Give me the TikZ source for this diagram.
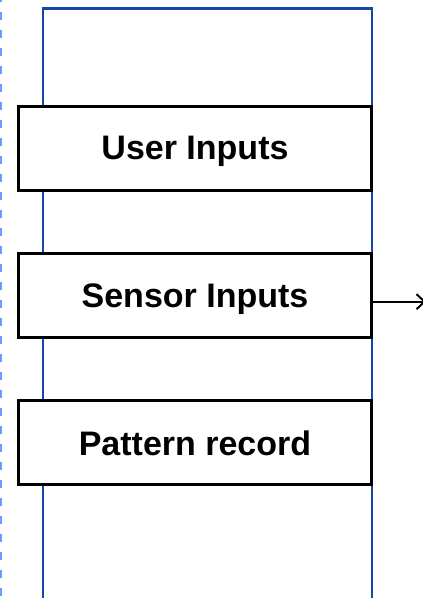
\documentclass[tikz,border=0pt]{standalone}
\usepackage{fontspec}
\setmainfont{Liberation Sans}
\usetikzlibrary{arrows.meta}
\definecolor{lanecol}{RGB}{22,70,168}
\definecolor{dashcol}{RGB}{106,155,255}
\tikzset{
  stepbox/.style={draw=black, line width=3pt, fill=white, minimum width=353pt, minimum height=84pt,
    inner sep=0pt, text depth=0pt, font=\fontsize{34}{40}\selectfont\bfseries},
  lanebox/.style={draw=lanecol, line width=2.6pt, minimum width=329pt, minimum height=610pt, inner sep=0pt},
}
\begin{document}
\begin{tikzpicture}[x=1pt,y=1pt]
\useasboundingbox (0,0) rectangle (423,598);
\draw[dashcol, line width=2pt, dash pattern=on 8pt off 10pt, dash phase=-12pt] (1,598) -- (1,0);
\node[lanebox] (lane) at (207.5,284.5) {};
\node[stepbox] (user) at (195,449.7) {User Inputs};
\node[stepbox] (sensor) at (195,302.2) {Sensor Inputs};
\node[stepbox] (pattern) at (195,155) {Pattern record};
\coordinate (out) at (426,296.3);
\draw[line width=2pt, -{Straight Barb[length=8pt,width=15pt,line width=2pt]}] (sensor.east |- out) -- (out);
\end{tikzpicture}
\end{document}
